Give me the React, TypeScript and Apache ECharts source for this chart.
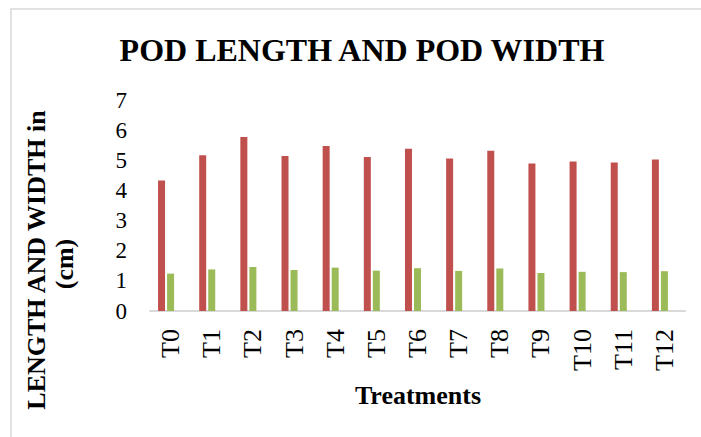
import React, { useEffect, useRef } from "react";
import * as echarts from "echarts";

const categories = ["T0", "T1", "T2", "T3", "T4", "T5", "T6", "T7", "T8", "T9", "T10", "T11", "T12"];
const podLength = [4.33, 5.17, 5.77, 5.14, 5.47, 5.11, 5.38, 5.06, 5.32, 4.89, 4.96, 4.93, 5.03];
const podWidth = [1.24, 1.38, 1.46, 1.36, 1.44, 1.34, 1.42, 1.33, 1.41, 1.26, 1.3, 1.29, 1.32];
const emptySeries: (number | null)[] = categories.map(() => null);

const FONT = "'Liberation Serif', 'Times New Roman', serif";

export default function App() {
  const ref = useRef<HTMLDivElement>(null);
  useEffect(() => {
    if (!ref.current) return;
    const chart = echarts.init(ref.current, undefined, { renderer: "svg" });
    chart.setOption({
      animation: false,
      backgroundColor: "#ffffff",
      grid: { left: 150, right: 16, top: 100, bottom: 126, containLabel: false },
      xAxis: {
        type: "category",
        data: categories,
        axisLine: { show: true, lineStyle: { color: "#d9d9d9", width: 2 } },
        axisTick: { show: false },
        axisLabel: { rotate: 90, fontSize: 26, color: "#000", fontFamily: FONT, margin: 18 },
      },
      yAxis: {
        type: "value",
        min: 0,
        max: 7,
        interval: 1,
        axisLine: { show: false },
        axisTick: { show: false },
        splitLine: { show: false },
        axisLabel: { fontSize: 23, color: "#000", fontFamily: FONT, margin: 23 },
      },
      series: [
        { name: "Pod length", type: "bar", data: podLength, barWidth: 7, barGap: "29%", itemStyle: { color: "#C0504D" } },
        { name: "Pod width", type: "bar", data: podWidth, barWidth: 7, barGap: "29%", itemStyle: { color: "#9BBB59" } },
        { name: "", type: "bar", data: emptySeries, barWidth: 7, barGap: "29%", itemStyle: { color: "#4F81BD" } },
      ],
      graphic: [
        {
          type: "rect",
          shape: { x: 11, y: 9, width: 800, height: 600 },
          style: { fill: "none", stroke: "#d9d9d9", lineWidth: 1.5 },
          silent: true,
        },
        {
          type: "text",
          x: 362,
          y: 50,
          style: {
            text: "POD LENGTH AND POD WIDTH",
            font: `bold 32px ${FONT}`,
            fill: "#000",
            textAlign: "center",
            textVerticalAlign: "middle",
          },
        },
        {
          type: "text",
          x: 36,
          y: 260,
          rotation: Math.PI / 2,
          style: {
            text: "LENGTH AND WIDTH in",
            font: `bold 26px ${FONT}`,
            fill: "#000",
            textAlign: "center",
            textVerticalAlign: "middle",
          },
        },
        {
          type: "text",
          x: 64,
          y: 264,
          rotation: Math.PI / 2,
          style: {
            text: "(cm)",
            font: `bold 26px ${FONT}`,
            fill: "#000",
            textAlign: "center",
            textVerticalAlign: "middle",
          },
        },
        {
          type: "text",
          x: 418,
          y: 395,
          style: {
            text: "Treatments",
            font: `bold 26px ${FONT}`,
            fill: "#000",
            textAlign: "center",
            textVerticalAlign: "middle",
          },
        },
      ],
    });
    return () => chart.dispose();
  }, []);
  return (
    <div
      ref={ref}
      style={{ position: "fixed", left: 0, top: 0, width: 701, height: 437 }}
    />
  );
}
